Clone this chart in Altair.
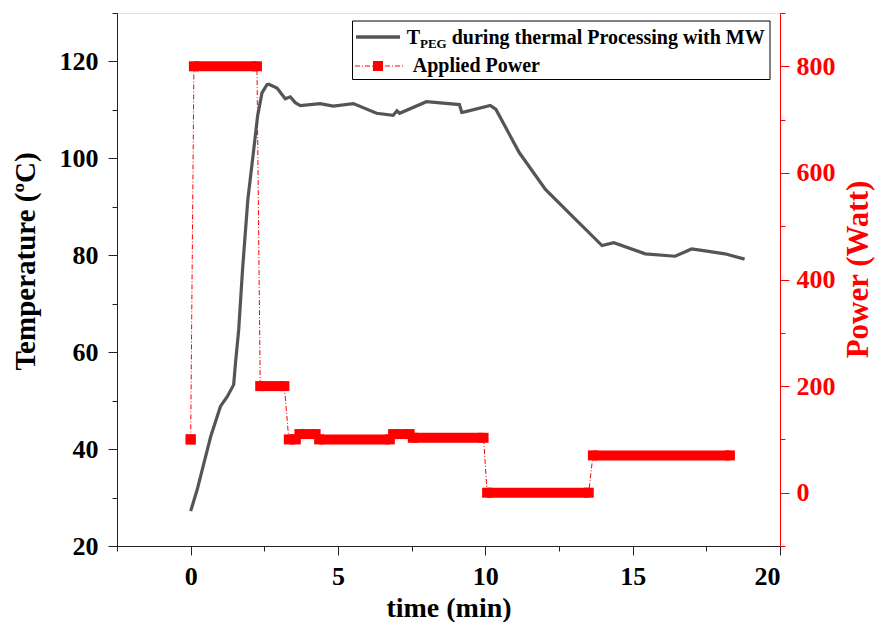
import altair as alt
import pandas as pd

# ---- Temperature of PEG (left axis) ----
time_T = [0.0, 0.22, 0.45, 0.68, 1.01, 1.24, 1.46, 1.52, 1.63, 1.76, 1.94, 2.14, 2.27, 2.42,
          2.59, 2.65, 2.93, 3.21, 3.38, 3.55, 3.72, 4.39, 4.84, 5.52, 6.31, 6.87, 7.0, 7.09,
          8.0, 9.12, 9.2, 9.3, 10.17, 10.36, 11.15, 12.04, 12.95, 13.96, 14.36, 15.43, 16.44,
          17.0, 17.46, 18.13, 18.8]
temp_T = [27.2, 31.6, 37.1, 42.6, 48.8, 50.8, 53.3, 57.7, 64.6, 77.0, 91.5, 101.8, 108.7, 113.5,
          115.2, 115.3, 114.5, 112.3, 112.7, 111.5, 110.9, 111.3, 110.8, 111.3, 109.3, 108.9, 109.8, 109.3,
          111.7, 111.1, 109.5, 109.6, 110.9, 110.1, 101.2, 93.6, 88.1, 82.0, 82.6, 80.3, 79.8,
          81.3, 80.9, 80.3, 79.2]

# ---- Applied power (right axis), constant segments ----
seg_start = [0.0, 0.11, 2.36, 3.33, 3.69, 4.36, 6.87, 7.54, 10.06, 13.65]
seg_end = [0.0, 2.25, 3.18, 3.57, 4.24, 6.76, 7.43, 9.94, 13.51, 18.3]
seg_power = [100, 800, 200, 100, 110, 100, 110, 103, 0, 70]

# ---- axis ticks ----
x_ticks = [-2.5, 0, 2.5, 5, 7.5, 10, 12.5, 15, 17.5, 20]
yl_ticks = [20, 30, 40, 50, 60, 70, 80, 90, 100, 110, 120, 130]
yr_ticks = [-100, 0, 100, 200, 300, 400, 500, 600, 700, 800, 900]

FONT = "Liberation Serif"
RED = "#ff0000"
GRAY = "#555555"

temp_df = pd.DataFrame({"t": time_T, "T": temp_T})
seg_df = pd.DataFrame({"start": seg_start, "end": seg_end, "P": seg_power})
pts = []
k = 0
for s, e, p in zip(seg_start, seg_end, seg_power):
    pts.append({"t": s, "P": p, "o": k}); k += 1
    pts.append({"t": e, "P": p, "o": k}); k += 1
pts_df = pd.DataFrame(pts)

xscale = alt.Scale(domain=[-2.5, 20], nice=False, zero=False)
xaxis = alt.Axis(
    values=x_ticks, title="time (min)",
    labelExpr="datum.value % 5 === 0 ? format(datum.value, 'd') : ''",
    tickSize={"condition": {"test": "datum.value % 5 === 0", "value": 9}, "value": 5},
    labelOverlap=False, grid=False, domainColor="#222", tickColor="#222",
    labelFont=FONT, labelFontSize=26, labelFontWeight="bold", labelColor="black",
    labelPadding=8, titleFont=FONT, titleFontSize=28, titleFontWeight="bold",
    titleColor="black", titleY=62, titleBaseline="middle",
)

left_axis = alt.Axis(
    values=yl_ticks, title="Temperature (ºC)",
    labelExpr="datum.value % 20 === 0 ? format(datum.value, 'd') : ''",
    tickSize={"condition": {"test": "datum.value % 20 === 0", "value": 9}, "value": 5},
    labelOverlap=False, grid=False, domainColor="#222", tickColor="#222",
    labelFont=FONT, labelFontSize=26, labelFontWeight="bold", labelColor="black",
    labelPadding=10, titleFont=FONT, titleFontSize=29, titleFontWeight="bold",
    titleColor="black", titleX=-92, titleY=248, titleAlign="center",
    titleBaseline="middle", titleAngle=270,
)

right_axis = alt.Axis(
    values=yr_ticks, title="Power (Watt)", orient="right",
    labelExpr="datum.value % 200 === 0 ? format(datum.value, 'd') : ''",
    tickSize={"condition": {"test": "datum.value % 200 === 0", "value": 9}, "value": 5},
    labelOverlap=False, grid=False, domainColor=RED, tickColor=RED,
    labelFont=FONT, labelFontSize=31, labelFontWeight="bold", labelColor=RED,
    labelPadding=7, titleFont=FONT, titleFontSize=31, titleFontWeight="bold",
    titleColor=RED, titleX=78, titleY=256, titleAlign="center",
    titleBaseline="middle", titleAngle=270,
)
right_axis.labelFontSize = 26

temp_line = alt.Chart(temp_df).mark_line(color=GRAY, strokeWidth=3.2).encode(
    x=alt.X("t:Q", scale=xscale, axis=xaxis),
    y=alt.Y("T:Q", scale=alt.Scale(domain=[20, 130], nice=False, zero=False), axis=left_axis),
)

yr = alt.Y("P:Q", scale=alt.Scale(domain=[-100, 900], nice=False, zero=False), axis=right_axis)

conn = alt.Chart(pts_df).mark_line(color=RED, strokeWidth=1, strokeDash=[5, 2, 1, 2]).encode(
    x=alt.X("t:Q", scale=xscale), y=yr, order="o:Q"
)
bars = alt.Chart(seg_df).mark_rule(color=RED, strokeWidth=10).encode(
    x=alt.X("start:Q", scale=xscale), x2="end:Q", y=yr
)
caps = alt.Chart(pts_df).mark_square(color=RED, size=100, opacity=1).encode(
    x=alt.X("t:Q", scale=xscale), y=yr
)
power = alt.layer(conn, bars, caps)

one = alt.Data(values=[{"a": 1}])
lg_box = alt.Chart(one).mark_rect(fill="white", stroke="black", strokeWidth=1).encode(
    x=alt.value(235.5), x2=alt.value(653), y=alt.value(8), y2=alt.value(66.5))
lg_line = alt.Chart(one).mark_rule(color=GRAY, strokeWidth=3.5).encode(
    x=alt.value(239), x2=alt.value(283), y=alt.value(24))
lg_dash = alt.Chart(one).mark_rule(color=RED, strokeWidth=1, strokeDash=[5, 2, 1, 2]).encode(
    x=alt.value(238), x2=alt.value(286), y=alt.value(53))
lg_sq = alt.Chart(one).mark_square(color=RED, size=100, opacity=1).encode(
    x=alt.value(261), y=alt.value(53))

def txt(s, x, y, size):
    return alt.Chart(one).mark_text(text=s, font=FONT, fontSize=size, fontWeight="bold",
                                    align="left", baseline="alphabetic", color="black").encode(
        x=alt.value(x), y=alt.value(y))

legend = alt.layer(
    lg_box, lg_line, lg_dash, lg_sq,
    txt("T", 289.7, 31.3, 20), txt("PEG", 303, 35.3, 13),
    txt("during thermal Processing with MW", 334.7, 31.3, 20),
    txt("Applied Power", 295.7, 59.3, 20),
)

chart = alt.layer(temp_line, power, legend).resolve_scale(y="independent").properties(
    width=663, height=533,
    autosize=alt.AutoSizeParams(type="none"),
    padding={"left": 109, "top": 5, "right": 97, "bottom": 76},
).configure_view(stroke=None).configure(background="white")

chart.save("out.html", embed_options={"renderer": "svg", "actions": False})
